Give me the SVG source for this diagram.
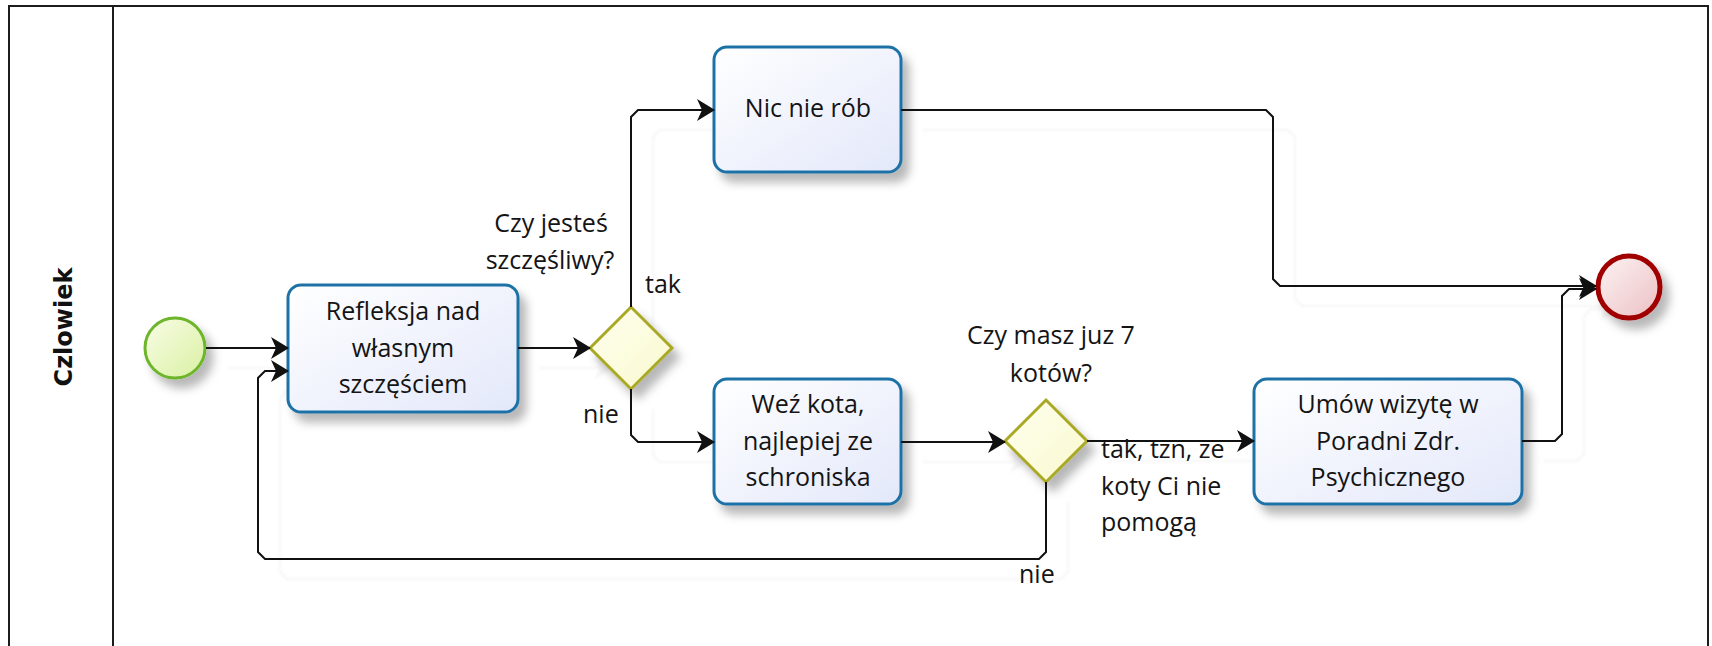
<svg xmlns="http://www.w3.org/2000/svg" width="1712" height="646" viewBox="0 0 1712 646">
  <defs>
    <style>
      .lane { fill: #ffffff; stroke: #1c1c1c; stroke-width: 2; }
      .lane-title { font-family: "DejaVu Sans", Verdana, sans-serif; font-weight: bold; font-size: 24px; fill: #111; }
      .txt { font-family: "Open Sans", "Noto Sans", sans-serif; font-size: 25px; fill: #141414; }
      .mid { text-anchor: middle; }
      .task { fill: url(#gTask); stroke: #1f72a6; stroke-width: 3; filter: url(#drop); }
      .gate { fill: url(#gGate); stroke: #a9a925; stroke-width: 3; filter: url(#drop); }
      .start { fill: url(#gStart); stroke: #6db52c; stroke-width: 3; filter: url(#drop); }
      .end { fill: url(#gEnd); stroke: #a00000; stroke-width: 5; filter: url(#drop); }
      .flow { fill: none; stroke: #111; stroke-width: 2; marker-end: url(#arrow); }
    </style>
    <linearGradient id="gTask" x1="0" y1="0" x2="1" y2="1">
      <stop offset="0" stop-color="#ffffff"/>
      <stop offset="1" stop-color="#e3e8fa"/>
    </linearGradient>
    <linearGradient id="gGate" x1="0" y1="0" x2="1" y2="1">
      <stop offset="0" stop-color="#ffffef"/>
      <stop offset="1" stop-color="#f9f9cf"/>
    </linearGradient>
    <linearGradient id="gStart" x1="0" y1="0" x2="1" y2="1">
      <stop offset="0" stop-color="#f8fde6"/>
      <stop offset="1" stop-color="#daf0a2"/>
    </linearGradient>
    <linearGradient id="gEnd" x1="0" y1="0" x2="1" y2="1">
      <stop offset="0" stop-color="#fdf4f4"/>
      <stop offset="1" stop-color="#ebbfc3"/>
    </linearGradient>
    <filter id="drop" x="-30%" y="-30%" width="170%" height="170%">
      <feDropShadow dx="7" dy="9" stdDeviation="5" flood-color="#000" flood-opacity="0.28"/>
    </filter>
    <filter id="flowShade" x="-5%" y="-5%" width="110%" height="110%">
      <feColorMatrix type="matrix" values="0 0 0 0 0.45  0 0 0 0 0.45  0 0 0 0 0.45  0 0 0 0.13 0"/>
      <feGaussianBlur stdDeviation="0.8"/>
    </filter>
    <marker id="arrow" viewBox="0 0 18 22" refX="17" refY="11" markerWidth="18" markerHeight="22" orient="auto" markerUnits="userSpaceOnUse">
      <path d="M0,0 L18,11 L0,22 L5,11 Z" fill="#111"/>
    </marker>
  </defs>

  <!-- pool with its single lane -->
  <g id="pool">
    <rect class="lane" x="9" y="6" width="1699" height="660"/>
    <line x1="113" y1="6" x2="113" y2="646" stroke="#1c1c1c" stroke-width="2"/>
    <text class="lane-title" text-anchor="middle" transform="translate(72,327) rotate(-90)">Czlowiek</text>
  </g>

  <!-- soft shade of the sequence flows -->
  <use href="#flows" transform="translate(22,20)" filter="url(#flowShade)"/>

  <g id="start">
    <circle class="start" cx="175" cy="348" r="30"/>
  </g>

  <g id="task-refleksja">
    <rect class="task" x="288" y="285" width="230" height="127" rx="13"/>
    <text class="txt mid" x="403" y="320">Refleksja nad</text>
    <text class="txt mid" x="403" y="357">własnym</text>
    <text class="txt mid" x="403" y="393">szczęściem</text>
  </g>

  <g id="gateway-szczesliwy">
    <path class="gate" d="M590,348 L631,307 L672,348 L631,389 Z"/>
    <text class="txt mid" x="551" y="232">Czy jesteś</text>
    <text class="txt mid" x="550" y="269">szczęśliwy?</text>
  </g>

  <g id="task-nic">
    <rect class="task" x="714" y="47" width="187" height="125" rx="13"/>
    <text class="txt mid" x="808" y="117">Nic nie rób</text>
  </g>

  <g id="task-kot">
    <rect class="task" x="714" y="379" width="187" height="125" rx="13"/>
    <text class="txt mid" x="808" y="413">Weź kota,</text>
    <text class="txt mid" x="808" y="450">najlepiej ze</text>
    <text class="txt mid" x="808" y="486">schroniska</text>
  </g>

  <g id="gateway-koty">
    <path class="gate" d="M1005,441 L1046,400 L1087,441 L1046,482 Z"/>
    <text class="txt mid" x="1051" y="344">Czy masz juz 7</text>
    <text class="txt mid" x="1051" y="382">kotów?</text>
  </g>

  <g id="task-poradnia">
    <rect class="task" x="1254" y="379" width="268" height="125" rx="13"/>
    <text class="txt mid" x="1388" y="413">Umów wizytę w</text>
    <text class="txt mid" x="1388" y="450">Poradni Zdr.</text>
    <text class="txt mid" x="1388" y="486">Psychicznego</text>
  </g>

  <g id="end">
    <circle class="end" cx="1629" cy="287" r="31"/>
  </g>

  <!-- sequence flows -->
  <g id="flows">
    <path class="flow" d="M206,348 H288"/>
    <path class="flow" d="M518,348 H590"/>
    <path class="flow" d="M631,307 V117 L638,110 H714"/>
    <path class="flow" d="M631,389 V435 L638,442 H714"/>
    <path class="flow" d="M901,110 H1266 L1273,117 V279 L1280,286 H1596"/>
    <path class="flow" d="M901,442 H1005"/>
    <path class="flow" d="M1087,441 H1254"/>
    <path class="flow" d="M1522,441 H1555 L1562,434 V296 L1569,289 H1596"/>
    <path class="flow" d="M1046,482 V552 L1039,559 H265 L258,552 V378 L265,371 H288"/>
  </g>

  <!-- flow labels -->
  <g id="flow-labels">
    <text class="txt" x="645" y="293">tak</text>
    <text class="txt" x="583" y="423">nie</text>
    <text class="txt" x="1101" y="458">tak, tzn, ze</text>
    <text class="txt" x="1101" y="495">koty Ci nie</text>
    <text class="txt" x="1101" y="531">pomogą</text>
    <text class="txt" x="1019" y="583">nie</text>
  </g>
</svg>
